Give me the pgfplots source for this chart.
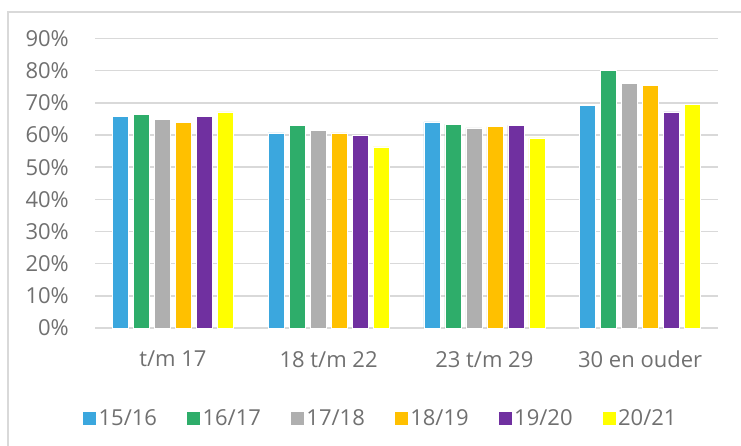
\documentclass[border=0pt]{standalone}
\usepackage{pgfplots}
\pgfplotsset{compat=1.18}
\usepackage{fontspec}
\setmainfont{Open Sans}
\definecolor{c1}{HTML}{3BA7DE}
\definecolor{c2}{HTML}{2EAD6A}
\definecolor{c3}{HTML}{AFAFAF}
\definecolor{c4}{HTML}{FFC000}
\definecolor{c5}{HTML}{7030A0}
\definecolor{c6}{HTML}{FFFF00}
\definecolor{txt}{HTML}{707070}
\definecolor{gridc}{HTML}{D9D9D9}
\begin{document}
\begin{tikzpicture}[x=1pt,y=1pt]
\useasboundingbox (0,0) rectangle (741,445);
\draw[gridc, line width=1.5pt] (8,-20) -- (8,433) -- (770,433);
\begin{axis}[
  at={(95pt,117pt)}, anchor=south west,
  scale only axis, width=623pt, height=289.5pt,
  ybar=5pt, bar width=16pt,
  xmin=-0.5, xmax=3.5, ymin=0, ymax=90,
  xtick={0,1,2,3},
  xticklabels={t/m 17,18 t/m 22,23 t/m 29,30 en ouder},
  ytick={0,10,...,90},
  yticklabels={0\%,10\%,20\%,30\%,40\%,50\%,60\%,70\%,80\%,90\%},
  ymajorgrids, grid style={gridc, line width=1.5pt},
  axis line style={draw=none},
  major tick length=0pt,
  tick label style={font=\fontsize{22}{26}\selectfont, text=txt},
  yticklabel style={anchor=east, inner sep=0pt, xshift=-26pt},
  xticklabel style={anchor=north, inner sep=0pt, yshift=-23pt},
  legend columns=6,
  legend style={at={(0.458,-0.313)}, anchor=center, draw=none,
    font=\fontsize{22}{26}\selectfont, text=txt,
    /tikz/every even column/.append style={column sep=27pt}},
  legend cell align=left,
  legend image code/.code={\fill[#1] (0pt,-7pt) rectangle (14pt,7pt);},
]
\addplot[fill=c1, draw=white, line width=0.5pt] coordinates {(0,65.9) (1,60.7) (2,64.1) (3,69.2)};
\addplot[fill=c2, draw=white, line width=0.5pt] coordinates {(0,66.4) (1,63.0) (2,63.4) (3,80.0)};
\addplot[fill=c3, draw=white, line width=0.5pt] coordinates {(0,64.9) (1,61.4) (2,62.2) (3,76.1)};
\addplot[fill=c4, draw=white, line width=0.5pt] coordinates {(0,64.0) (1,60.7) (2,62.6) (3,75.4)};
\addplot[fill=c5, draw=white, line width=0.5pt] coordinates {(0,65.9) (1,59.9) (2,63.0) (3,67.2)};
\addplot[fill=c6, draw=white, line width=0.5pt] coordinates {(0,67.2) (1,56.3) (2,59.1) (3,69.6)};
\legend{15/16,16/17,17/18,18/19,19/20,20/21}
\end{axis}
\end{tikzpicture}
\end{document}
